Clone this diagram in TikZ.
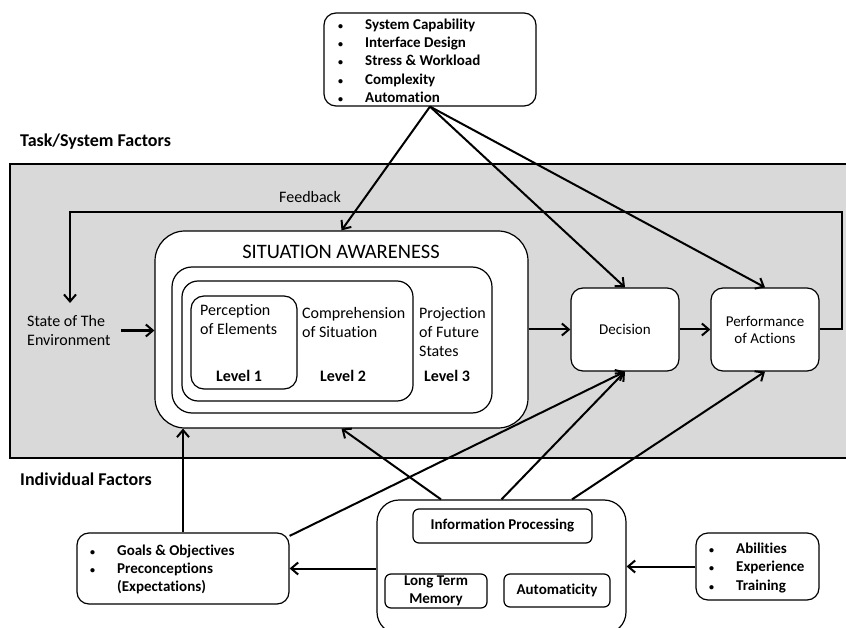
\documentclass[tikz,border=0pt]{standalone}
\usepackage{fontspec}
\setmainfont{Carlito}[Ligatures=NoCommon]
\usetikzlibrary{arrows.meta}
\definecolor{Grisfondo}{gray}{0.85}
\newcommand{\blt}{\makebox[27pt][l]{\fontsize{10}{10}\selectfont\textbullet}}

\begin{document}
\begin{tikzpicture}[x=1pt,y=-1pt,>={Straight Barb[length=7pt,width=12pt]},
 caja/.style={draw,line width=1.2pt,fill=white,rounded corners=#1},
 caja/.default=12pt,
 flecha/.style={->,line width=2pt},
 txt/.style={font=\fontsize{16}{19}\selectfont,inner sep=0pt,align=left},
 negr/.style={font=\fontsize{15}{18.3}\selectfont\bfseries,inner sep=0pt,align=left},
 titulo/.style={font=\fontsize{18}{20}\selectfont\bfseries,inner sep=0pt,anchor=west}]
\useasboundingbox (0,0) rectangle (846,628);
\draw[fill=Grisfondo,line width=1.2pt] (10,164) rectangle (852,458);

\node[caja,minimum width=212pt,minimum height=93pt] (sysf) at (430,59.5) {};
\node[negr,anchor=west] (sysftxt) at (338,60.5) {\blt System Capability\\\blt Interface Design\\\blt Stress \& Workload\\\blt Complexity\\\blt Automation};
\node[titulo] (tsf) at (20,142) {Task/System Factors};
\node[txt] (fb) at (310,197) {Feedback};
\node[txt,anchor=west] (env) at (27,330.5) {State of The\\Environment};

\node[caja=30pt,minimum width=373pt,minimum height=197pt] (sa1) at (341.5,329.5) {};
\node[caja=20pt,minimum width=320pt,minimum height=146pt] (sa2) at (332,340) {};
\node[caja=16pt,minimum width=231pt,minimum height=120pt] (sa3) at (297.5,341) {};
\node[caja=13pt,minimum width=106pt,minimum height=93pt] (sa4) at (244,342.5) {};
\node[font=\fontsize{20.5}{22}\selectfont] (satit) at (341,252) {SITUATION AWARENESS};
\node[txt,anchor=west] (perc) at (200,319.5) {Perception\\of Elements};
\node[txt,anchor=west] (comp) at (302,322.5) {Comprehension\\of Situation};
\node[txt,anchor=west] (proj) at (419,332.5) {Projection\\of Future\\States};
\foreach \pos/\num in {239/1,343/2,447/3}
\node[txt,font=\fontsize{16}{19}\selectfont\bfseries] (lvl\num) at (\pos,376) {Level \num};

\node[caja,minimum width=108pt,minimum height=83pt,font=\fontsize{15}{17}\selectfont] (dec) at (625,329.5) {Decision};
\node[caja,minimum width=108pt,minimum height=83pt,font=\fontsize{15}{17}\selectfont,align=center] (perf) at (765,329.5) {Performance\\of Actions};

\node[titulo] (indf) at (20,479) {Individual Factors};
\node[caja,minimum width=212pt,minimum height=71pt] (goals) at (183,568.5) {};
\node[negr,anchor=west] (goalstxt) at (90,569.5) {\blt Goals \& Objectives\\\blt Preconceptions\\\makebox[27pt]{}(Expectations)};
\node[caja=22pt,minimum width=249pt,minimum height=134pt] (info) at (501.5,567) {};
\node[caja=6pt,minimum width=179pt,minimum height=34pt,negr] (ipro) at (502.5,526) {Information Processing};
\node[caja=6pt,minimum width=102pt,minimum height=34pt,negr,align=center] (ltm) at (436,591) {Long Term\\Memory};
\node[caja=6pt,minimum width=106pt,minimum height=33pt,negr] (auto) at (557,590.5) {Automaticity};
\node[caja,minimum width=123pt,minimum height=67pt] (abil) at (757.5,566.5) {};
\node[negr,anchor=west] (abiltxt) at (709,568) {\blt Abilities\\\blt Experience\\\blt Training};

\coordinate (fbR) at (842,212);
\coordinate (fbL) at (70,212);
\coordinate (envtop) at (70,303);
\draw[flecha] (perf.east) -| (fbR) -- (fbL) -- (envtop);
\draw[flecha] ([xshift=10pt]env.east) -- (sa1.west |- env.east);
\draw[flecha] (sa1.east) -- (dec.west);
\draw[flecha] (dec.east) -- (perf.west);
\foreach \dest in {sa1,dec,perf}
\draw[flecha] (sysf.south) -- (\dest.north);
\draw[flecha] (goals.north) -- (goals.north |- sa1.south);
\draw[flecha] (goals.17) -- (dec.south);
\draw[flecha] ([xshift=-60.5pt]info.north) -- (sa1.south);
\draw[flecha] (info.north) -- (dec.south);
\draw[flecha] ([xshift=70.5pt]info.north) -- (perf.south);
\draw[flecha] (info.west |- goals.east) -- (goals.east);
\draw[flecha] (abil.west) -- (info.east |- abil.west);
\end{tikzpicture}
\end{document}
